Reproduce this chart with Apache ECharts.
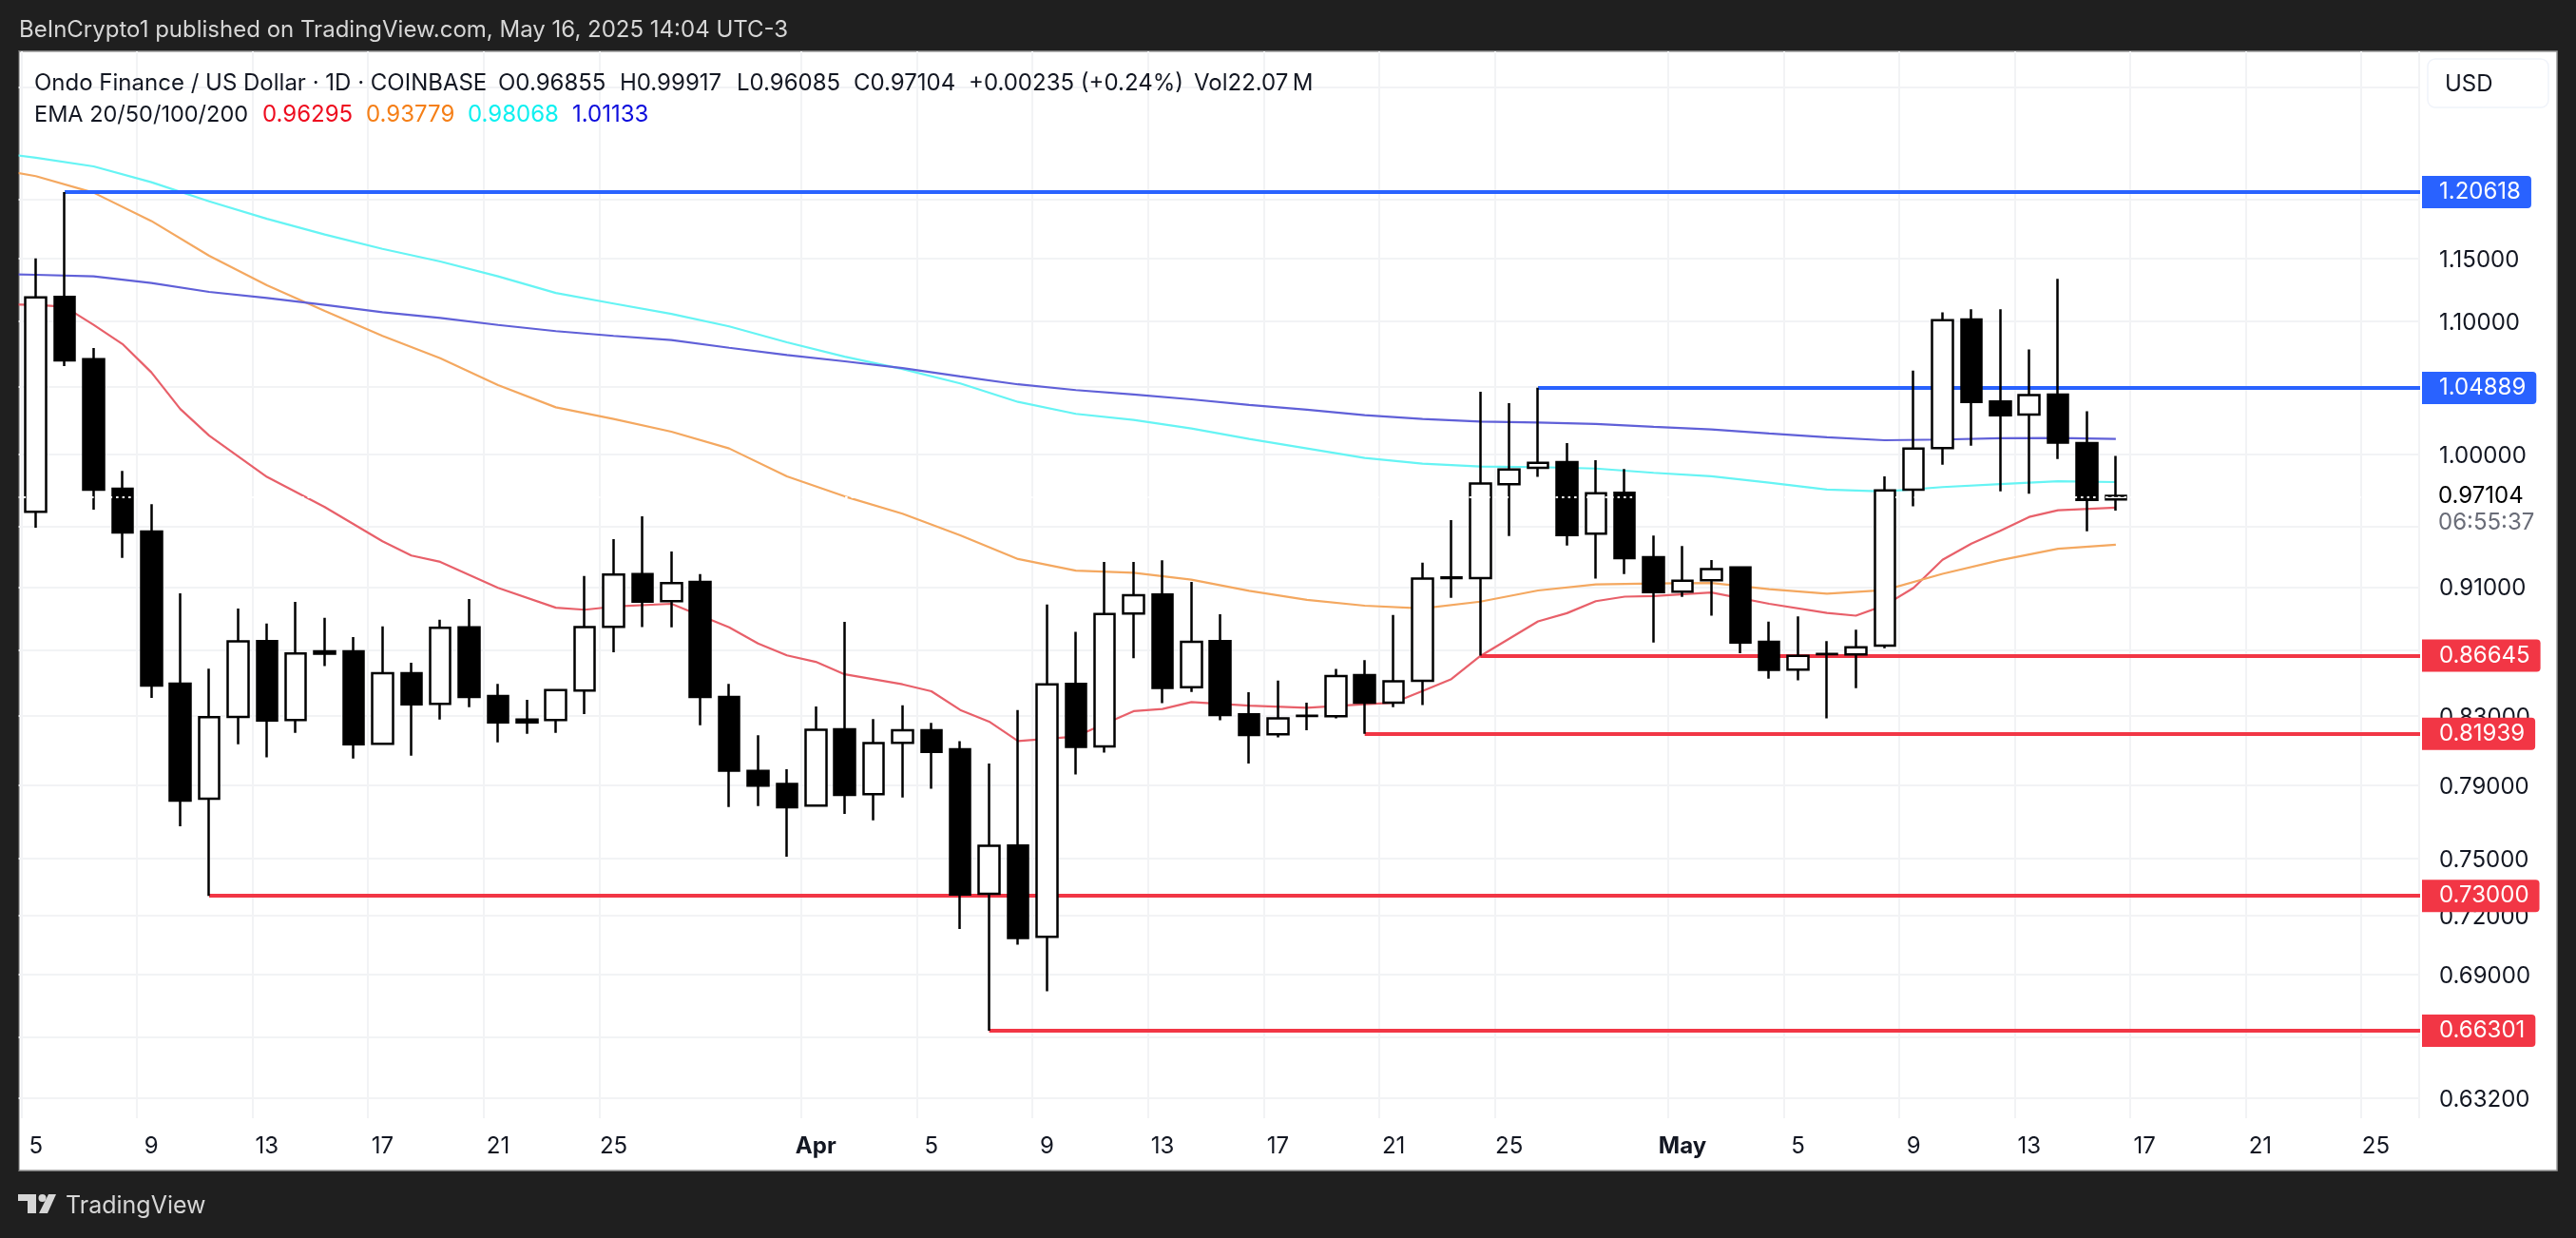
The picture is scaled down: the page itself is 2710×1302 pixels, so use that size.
<!DOCTYPE html>
<html>
<head>
<meta charset="utf-8">
<title>Ondo Finance / US Dollar</title>
<style>
  html, body { margin: 0; padding: 0; background: #1f1f1f; }
  #chart { width: 2710px; height: 1302px; }
</style>
<script src="https://cdn.jsdelivr.net/npm/echarts@6/dist/echarts.min.js"></script>
</head>
<body>
<div id="chart"></div>
<script>
// one entry per day, the first one only carries the EMA lines into the left edge
const dates = [
  '03-04', '03-05', '03-06', '03-07', '03-08', '03-09', '03-10', '03-11', '03-12', '03-13', '03-14', '03-15', '03-16', '03-17',
  '03-18', '03-19', '03-20', '03-21', '03-22', '03-23', '03-24', '03-25', '03-26', '03-27', '03-28', '03-29', '03-30', '03-31',
  '04-01', '04-02', '04-03', '04-04', '04-05', '04-06', '04-07', '04-08', '04-09', '04-10', '04-11', '04-12', '04-13', '04-14',
  '04-15', '04-16', '04-17', '04-18', '04-19', '04-20', '04-21', '04-22', '04-23', '04-24', '04-25', '04-26', '04-27', '04-28',
  '04-29', '04-30', '05-01', '05-02', '05-03', '05-04', '05-05', '05-06', '05-07', '05-08', '05-09', '05-10', '05-11', '05-12',
  '05-13', '05-14', '05-15', '05-16', '05-17', '05-18', '05-19', '05-20', '05-21', '05-22', '05-23', '05-24', '05-25', '05-26'
]

const xTickDates = ['03-05', '03-09', '03-13', '03-17', '03-21', '03-25', '04-01', '04-05', '04-09', '04-13', '04-17', '04-21', '04-25', '05-01', '05-05', '05-09', '05-13', '05-17', '05-21', '05-25']
const xTickLabels = ['5', '9', '13', '17', '21', '25', 'Apr', '5', '9', '13', '17', '21', '25', 'May', '5', '9', '13', '17', '21', '25']

const yGridValues = [0.632, 0.66, 0.69, 0.72, 0.75, 0.79, 0.83, 0.87, 0.91, 0.95, 1.0, 1.05, 1.1, 1.15, 1.2, 1.3]
const yLabelValues = [0.632, 0.69, 0.72, 0.75, 0.79, 0.83, 0.91, 1.0, 1.1, 1.15]

// open, close, low, high from Mar 5 on
const ohlc = [
  [0.9601, 1.1189, 0.9493, 1.1503], [1.1192, 1.0696, 1.0653, 1.2062], [1.0705, 0.9754, 0.9615, 1.0791], [0.976, 0.946, 0.9291, 0.9885],
  [0.9467, 0.8482, 0.8407, 0.9654], [0.8493, 0.7813, 0.7671, 0.9058], [0.7824, 0.8293, 0.73, 0.8585], [0.8294, 0.8754, 0.8134, 0.8961],
  [0.8755, 0.8272, 0.8058, 0.8865], [0.8276, 0.8678, 0.82, 0.9004], [0.8691, 0.8676, 0.86, 0.8901], [0.8691, 0.8134, 0.8051, 0.878],
  [0.8136, 0.8556, 0.8131, 0.8847], [0.8557, 0.8368, 0.8067, 0.8621], [0.8372, 0.8839, 0.8279, 0.8889], [0.8841, 0.8413, 0.8351, 0.9022],
  [0.8419, 0.8261, 0.8145, 0.8491], [0.8278, 0.8261, 0.8195, 0.8396], [0.8276, 0.8454, 0.82, 0.8454], [0.8452, 0.8843, 0.8311, 0.9171],
  [0.8845, 0.9181, 0.8686, 0.9415], [0.9183, 0.9005, 0.8843, 0.957], [0.9008, 0.9125, 0.8841, 0.9333], [0.9133, 0.8413, 0.8245, 0.9183],
  [0.8413, 0.7982, 0.7778, 0.8491], [0.798, 0.7897, 0.7783, 0.8186], [0.7907, 0.7776, 0.7507, 0.799], [0.7786, 0.8218, 0.7782, 0.8356],
  [0.8221, 0.7845, 0.7739, 0.8876], [0.7849, 0.814, 0.7704, 0.8281], [0.8142, 0.8216, 0.7831, 0.8363], [0.8216, 0.809, 0.7879, 0.8259],
  [0.8104, 0.7307, 0.7129, 0.8152], [0.7311, 0.7565, 0.663, 0.8023], [0.7567, 0.7083, 0.705, 0.8335], [0.709, 0.8489, 0.682, 0.8986],
  [0.8491, 0.8119, 0.796, 0.8813], [0.8121, 0.8926, 0.8086, 0.9264], [0.8929, 0.9046, 0.8648, 0.9264], [0.9051, 0.8467, 0.8376, 0.9275],
  [0.8472, 0.875, 0.8443, 0.9132], [0.8755, 0.8305, 0.8274, 0.8924], [0.8309, 0.8188, 0.8023, 0.8441], [0.8192, 0.8285, 0.8173, 0.8512],
  [0.8301, 0.8299, 0.8216, 0.8378], [0.8298, 0.854, 0.8285, 0.8583], [0.8545, 0.8378, 0.8194, 0.8637], [0.8378, 0.8507, 0.8352, 0.8919],
  [0.851, 0.9154, 0.8365, 0.9259], [0.9162, 0.9158, 0.9029, 0.9544], [0.9158, 0.9796, 0.8665, 1.046], [0.9792, 0.9896, 0.9437, 1.0374],
  [0.9907, 0.9943, 0.9843, 1.0489], [0.9948, 0.9443, 0.9372, 1.0083], [0.9452, 0.9729, 0.9154, 0.9961], [0.9732, 0.9289, 0.9183, 0.9899],
  [0.9295, 0.9066, 0.8746, 0.9439], [0.9069, 0.9141, 0.9035, 0.937], [0.9144, 0.9216, 0.8915, 0.9276], [0.9227, 0.8746, 0.868, 0.9227],
  [0.875, 0.8577, 0.8524, 0.8877], [0.8579, 0.8664, 0.8513, 0.8911], [0.8675, 0.8673, 0.8285, 0.8755], [0.8672, 0.8717, 0.8466, 0.8827],
  [0.8726, 0.9749, 0.8711, 0.9847], [0.9754, 1.0044, 0.9639, 1.0618], [1.0047, 1.1007, 0.9929, 1.107], [1.1013, 1.0384, 1.0065, 1.1094],
  [1.0387, 1.0286, 0.9742, 1.1094], [1.0291, 1.0434, 0.9725, 1.0781], [1.0439, 1.0086, 0.997, 1.1337], [1.0083, 0.9682, 0.9469, 1.0316],
  [0.96855, 0.97104, 0.96085, 0.99917]
]

// EMA lines read every second day
const emaDates = ['03-04', '03-05', '03-07', '03-09', '03-11', '03-13', '03-15', '03-17', '03-19', '03-21', '03-23', '03-25', '03-27', '03-29', '03-31', '04-02', '04-04', '04-06', '04-08', '04-10', '04-12', '04-14', '04-16', '04-18', '04-20', '04-22', '04-24', '04-26', '04-28', '04-30', '05-02', '05-04', '05-06', '05-08', '05-10', '05-12', '05-14', '05-16']
const ema50 = [1.2243, 1.2199, 1.2056, 1.1815, 1.1525, 1.1286, 1.1081, 1.0885, 1.0713, 1.051, 1.0344, 1.0258, 1.0166, 1.0045, 0.9847, 0.9707, 0.9588, 0.9441, 0.9283, 0.9206, 0.9192, 0.9147, 0.9075, 0.9016, 0.8979, 0.8961, 0.9005, 0.9077, 0.9116, 0.9122, 0.9125, 0.9085, 0.9056, 0.9079, 0.9185, 0.9275, 0.9351, 0.93779]
const ema100 = [1.2393, 1.236, 1.2284, 1.2146, 1.1982, 1.1833, 1.1701, 1.1582, 1.1478, 1.1357, 1.1223, 1.1139, 1.1057, 1.0959, 1.0835, 1.0725, 1.063, 1.0522, 1.0384, 1.0296, 1.0251, 1.0189, 1.0113, 1.0045, 0.9977, 0.9936, 0.9916, 0.9912, 0.9902, 0.9872, 0.9847, 0.9803, 0.9754, 0.9741, 0.9772, 0.9792, 0.9812, 0.98068]
const ema200 = [1.1374, 1.137, 1.1357, 1.1304, 1.1232, 1.1184, 1.1128, 1.107, 1.1025, 1.097, 1.0922, 1.0885, 1.0852, 1.0793, 1.0737, 1.0689, 1.0637, 1.0575, 1.0515, 1.0472, 1.0439, 1.0403, 1.0362, 1.0327, 1.0286, 1.0258, 1.024, 1.0233, 1.0222, 1.0201, 1.0182, 1.0153, 1.0125, 1.0104, 1.0109, 1.0118, 1.012, 1.01133]

// the EMA 20 bends more, so it has more readings
const ema20Dates = ['03-04', '03-05', '03-06', '03-07', '03-08', '03-09', '03-10', '03-11', '03-13', '03-15', '03-17', '03-18', '03-19', '03-21', '03-23', '03-24', '03-25', '03-27', '03-29', '03-30', '03-31', '04-01', '04-02', '04-04', '04-05', '04-06', '04-07', '04-08', '04-10', '04-12', '04-13', '04-14', '04-16', '04-18', '04-20', '04-21', '04-22', '04-23', '04-24', '04-25', '04-26', '04-27', '04-28', '04-29', '04-30', '05-02', '05-04', '05-06', '05-07', '05-08', '05-09', '05-10', '05-11', '05-12', '05-13', '05-14', '05-16']
const ema20 = [1.1133, 1.1128, 1.1113, 1.0971, 1.0822, 1.0605, 1.0332, 1.0137, 0.9843, 0.9634, 0.9401, 0.9306, 0.9264, 0.9094, 0.8966, 0.8953, 0.8973, 0.8991, 0.8841, 0.874, 0.8666, 0.8626, 0.855, 0.8489, 0.8447, 0.8335, 0.8266, 0.8152, 0.8179, 0.8328, 0.8341, 0.8382, 0.8361, 0.8348, 0.8369, 0.8378, 0.8449, 0.8521, 0.8662, 0.877, 0.8879, 0.8931, 0.9008, 0.9037, 0.9041, 0.9064, 0.8991, 0.8933, 0.8915, 0.8981, 0.9094, 0.9278, 0.9385, 0.9471, 0.9566, 0.9612, 0.96295]

const levelStarts = ['03-06', '04-26', '04-24', '04-20', '03-11', '04-07']
const levelValues = [1.20618, 1.04889, 0.86645, 0.81939, 0.73, 0.66301]
const levelColors = ['#2962ff', '#2962ff', '#f23645', '#f23645', '#f23645', '#f23645']

const lastPrice = 0.97104

const FONT = 'Inter, "Noto Sans", sans-serif'
const TEXT_COLOR = '#131722'

function text (str, x, y, fill, size = 24, weight = 'normal') {
  return {
    type: 'text',
    z: 60,
    silent: true,
    style: { x, y, text: str, fill, font: `${weight} ${size}px ${FONT}`, verticalAlign: 'middle' }
  }
}

function emaSeries (name, days, values, color) {
  return {
    name,
    type: 'line',
    z: 3,
    symbol: 'none',
    smooth: false,
    lineStyle: { color, width: 2.2 },
    data: days.map((d, i) => [d, values[i]])
  }
}

const chart = echarts.init(document.getElementById('chart'), null, { renderer: 'canvas' })

chart.setOption({
  animation: false,
  backgroundColor: '#1f1f1f',
  textStyle: { fontFamily: FONT },
  grid: { left: -7.9, right: 165, top: 54, bottom: 126, containLabel: false, outerBoundsMode: 'none' },
  xAxis: {
    type: 'category',
    data: dates,
    boundaryGap: true,
    axisLine: { show: false },
    axisTick: { show: false, alignWithLabel: true, interval: (i, d) => xTickDates.includes(d) },
    splitLine: { show: true, interval: (i, d) => xTickDates.includes(d), lineStyle: { color: '#f2f3f5', width: 2 } },
    axisLabel: {
      margin: 18,
      fontSize: 24,
      fontFamily: FONT,
      color: TEXT_COLOR,
      interval: (i, d) => xTickDates.includes(d),
      formatter: d => {
        const label = xTickLabels[xTickDates.indexOf(d)]
        return d.endsWith('-01') ? `{month|${label}}` : label
      },
      rich: { month: { fontSize: 24, fontWeight: 'bold', fontFamily: FONT, color: TEXT_COLOR } }
    }
  },
  yAxis: {
    type: 'log',
    logBase: 10,
    position: 'right',
    min: 0.6229,
    max: 1.3335,
    axisLine: { show: false },
    axisTick: { show: false, customValues: yGridValues },
    splitLine: { show: true, lineStyle: { color: '#f2f3f5', width: 2 } },
    axisLabel: {
      margin: 21,
      customValues: yLabelValues,
      formatter: v => `{p|${v.toFixed(5)}}`,
      rich: { p: { fontSize: 24, fontFamily: FONT, color: TEXT_COLOR, padding: [4, 0, 0, 0] } }
    }
  },
  series: [
    emaSeries('EMA 20', ema20Dates, ema20, '#e8606a'),
    emaSeries('EMA 50', emaDates, ema50, '#f4a860'),
    emaSeries('EMA 100', emaDates, ema100, '#66f4f4'),
    emaSeries('EMA 200', emaDates, ema200, '#6060d8'),
    {
      name: 'levels',
      type: 'line',
      data: [],
      markLine: {
        silent: true,
        z: 4,
        symbol: 'none',
        animation: false,
        data: levelValues.map((v, i) => [{
          xAxis: levelStarts[i],
          yAxis: v,
          lineStyle: { color: levelColors[i], width: 4, type: 'solid' },
          label: {
            show: true,
            position: 'end',
            distance: 2,
            formatter: v.toFixed(5),
            color: '#fff',
            fontSize: 24,
            fontFamily: FONT,
            lineHeight: 24,
            backgroundColor: levelColors[i],
            borderRadius: [0, 4, 4, 0],
            padding: [6, 11, 4, 18]
          }
        }, { x: 2546, yAxis: v }])
      }
    },
    {
      name: 'price',
      type: 'line',
      data: [],
      markLine: {
        silent: true,
        z: 20,
        symbol: 'none',
        animation: false,
        label: { show: false },
        lineStyle: { color: '#fff', width: 2.2, type: [2.5, 4] },
        data: [{ yAxis: lastPrice }]
      }
    },
    {
      name: 'ONDOUSD',
      type: 'candlestick',
      z: 10,
      barWidth: 22,
      itemStyle: {
        color: '#fff',
        color0: '#000',
        borderColor: '#000',
        borderColor0: '#000',
        borderColorDoji: '#000',
        borderWidth: 2.5
      },
      data: [['-', '-', '-', '-']].concat(ohlc)
    }
  ],
  graphic: [
    // white chart panel under everything, dark strip over the clipped left side
    { type: 'rect', z: -10, silent: true, shape: { x: 20, y: 54, width: 2670, height: 1177 }, style: { fill: '#fff', stroke: '#9a9a9a', lineWidth: 1.5 } },
    { type: 'rect', z: 50, silent: true, shape: { x: 0, y: 54, width: 19.5, height: 1177 }, style: { fill: '#1f1f1f' } },

    text('BeInCrypto1 published on TradingView.com, May 16, 2025 14:04 UTC-3', 20, 32, '#d6d6d6'),

    text('Ondo Finance / US Dollar · 1D · COINBASE', 36, 87.5, TEXT_COLOR),
    text('O0.96855', 524, 87.5, TEXT_COLOR),
    text('H0.99917', 652, 87.5, TEXT_COLOR),
    text('L0.96085', 775, 87.5, TEXT_COLOR),
    text('C0.97104', 898, 87.5, TEXT_COLOR),
    text('+0.00235 (+0.24%)', 1019, 87.5, TEXT_COLOR),
    text('Vol22.07\u2009M', 1256, 87.5, TEXT_COLOR),

    text('EMA 20/50/100/200', 36, 120.5, TEXT_COLOR, 23.5),
    text('0.96295', 276, 120.5, '#ee0c1f'),
    text('0.93779', 385, 120.5, '#f57f17'),
    text('0.98068', 492, 120.5, '#0ef0f0'),
    text('1.01133', 602, 120.5, '#0c0cdc'),

    { type: 'rect', z: 55, silent: true, shape: { x: 2554, y: 62, width: 127, height: 51, r: 8 }, style: { fill: '#fff', stroke: '#f0f3fa', lineWidth: 1.5 } },
    text('USD', 2572, 88.5, TEXT_COLOR),

    text('0.97104', 2565, 522, '#000'),
    text('06:55:37', 2565, 550, '#6a6d78'),

    // TradingView mark and name in the footer
    { type: 'polygon', z: 60, silent: true, shape: { points: [[19, 1256], [38, 1256], [38, 1276], [29, 1276], [29, 1263], [19, 1263]] }, style: { fill: '#d6d6d6' } },
    { type: 'circle', z: 60, silent: true, shape: { cx: 44.5, cy: 1260, r: 4 }, style: { fill: '#d6d6d6' } },
    { type: 'polygon', z: 60, silent: true, shape: { points: [[51, 1256], [59, 1256], [50, 1276], [41, 1276]] }, style: { fill: '#d6d6d6' } },
    text('TradingView', 69, 1268, '#d6d6d6', 25)
  ]
})
</script>
</body>
</html>
